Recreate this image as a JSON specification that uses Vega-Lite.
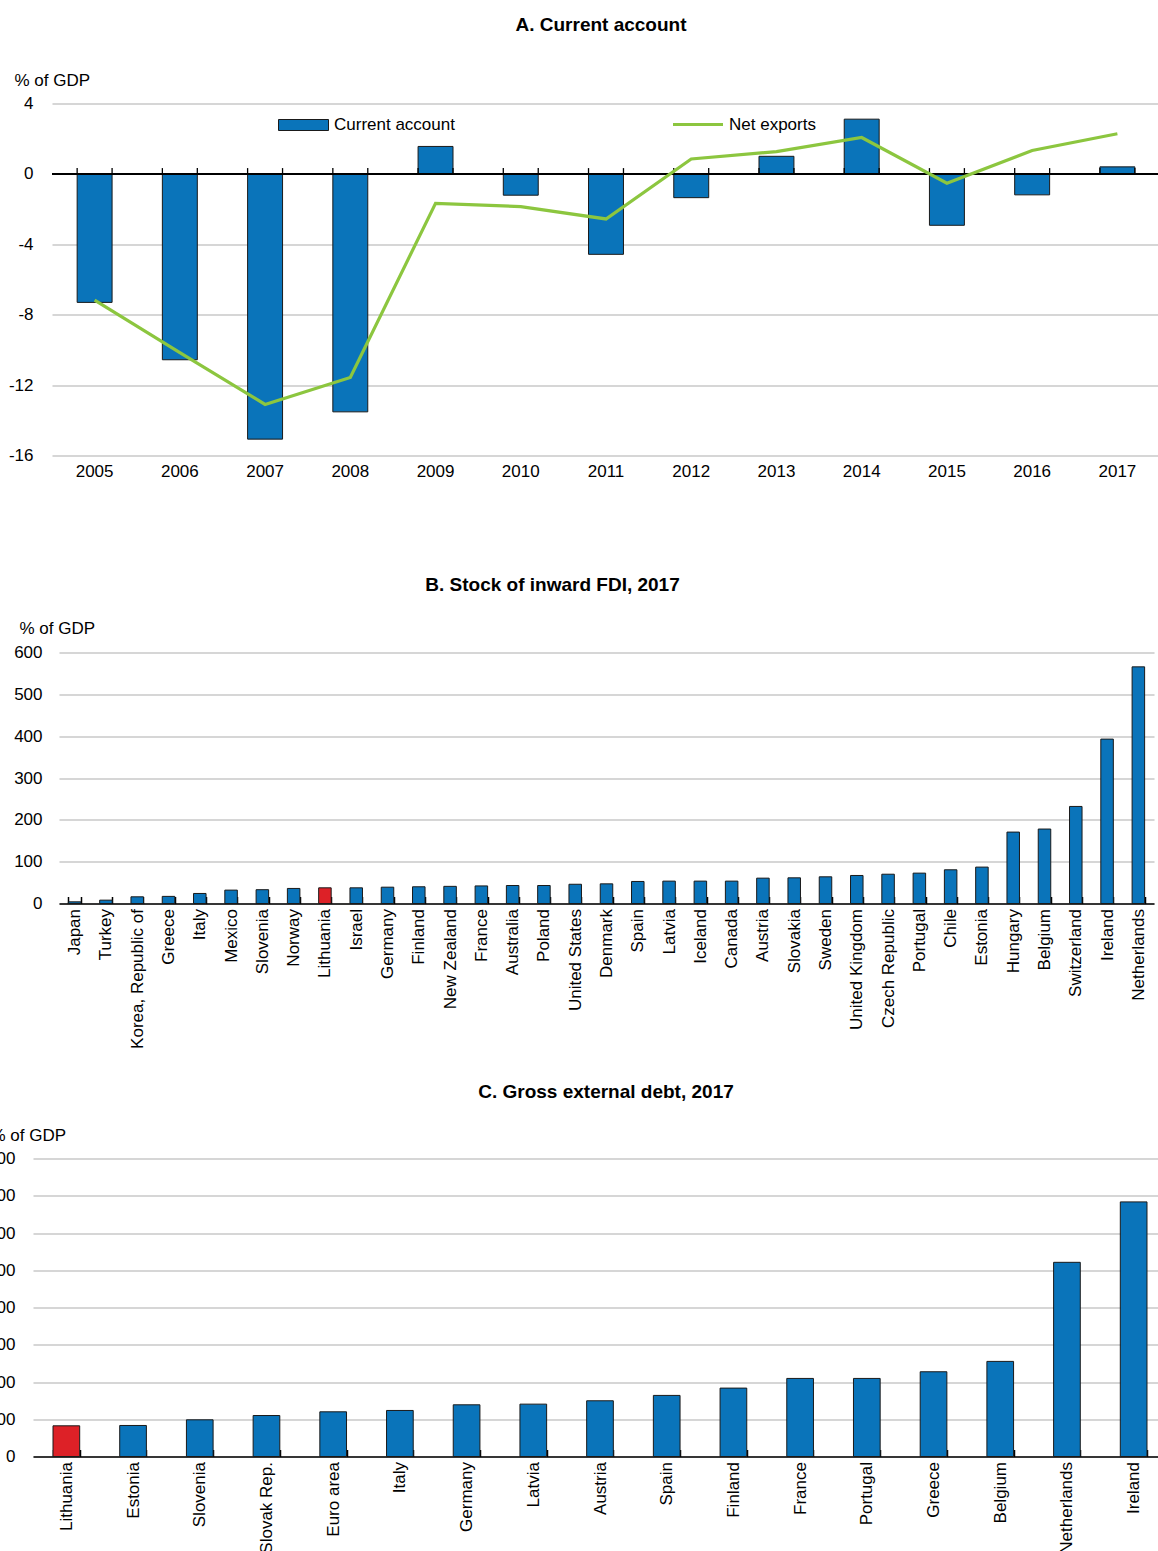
{
  "$schema": "https://vega.github.io/schema/vega-lite/v6.json",
  "padding": {"left": -18, "top": 15.5, "right": 0, "bottom": 0},
  "spacing": 34,
  "config": {
    "font": "Liberation Sans, Arial",
    "view": {"stroke": null},
    "axis": {"labelFontSize": 17, "labelColor": "#000", "titleFontSize": 17, "titleFontWeight": "normal", "titleColor": "#000", "gridColor": "#c8c8c8", "gridWidth": 1.5},
    "title": {"fontSize": 19, "fontWeight": "bold", "color": "#000", "frame": "group"},
    "legend": {"labelFontSize": 17, "labelColor": "#000"}
  },
  "vconcat": [
    {
      "spacing": 0,
      "hconcat": [
        {"width": 20, "height": 1, "data": {"values": [{}]}, "mark": {"type": "point", "opacity": 0, "size": 0}},
        {
          "width": 1108,
          "height": 352,
          "title": {"text": "A. Current account", "offset": 37, "dx": -5},
          "data": {"values": [
            {"year": "2005", "current_account": -7.30, "net_exports": -7.17},
            {"year": "2006", "current_account": -10.56, "net_exports": -10.15},
            {"year": "2007", "current_account": -15.07, "net_exports": -13.10},
            {"year": "2008", "current_account": -13.52, "net_exports": -11.57},
            {"year": "2009", "current_account": 1.56, "net_exports": -1.67},
            {"year": "2010", "current_account": -1.21, "net_exports": -1.86},
            {"year": "2011", "current_account": -4.57, "net_exports": -2.56},
            {"year": "2012", "current_account": -1.35, "net_exports": 0.85},
            {"year": "2013", "current_account": 1.00, "net_exports": 1.27},
            {"year": "2014", "current_account": 3.11, "net_exports": 2.07},
            {"year": "2015", "current_account": -2.92, "net_exports": -0.53},
            {"year": "2016", "current_account": -1.19, "net_exports": 1.33},
            {"year": "2017", "current_account": 0.40, "net_exports": 2.28}
          ]},
          "layer": [
            {
              "mark": {"type": "bar", "stroke": "#1a1a1a", "strokeWidth": 1},
              "encoding": {
                "x": {"field": "year", "type": "ordinal", "scale": {"paddingInner": 0.59, "paddingOuter": 0.295},
                      "axis": {"domain": false, "ticks": false, "labelAngle": 0, "labelPadding": 8, "title": null, "grid": false, "minExtent": 86}},
                "y": {"field": "current_account", "type": "quantitative", "scale": {"domain": [-16, 4], "nice": false},
                      "axis": {"values": [4, 0, -4, -8, -12, -16], "labelExpr": "'' + datum.value", "grid": true, "domain": false, "ticks": false, "labelPadding": 19, "minExtent": 50,
                               "title": "% of GDP", "titleAngle": 0, "titleAlign": "left", "titleBaseline": "middle", "titleX": -38, "titleY": -23}},
                "fill": {"datum": "Current account", "scale": {"range": ["#0a74ba"]},
                         "legend": {"orient": "none", "legendX": 296, "legendY": -4, "title": null, "padding": 0,
                                    "symbolType": "M-1,-0.22H1V0.22H-1Z", "symbolSize": 2500, "symbolStrokeColor": "#1a1a1a", "symbolStrokeWidth": 1, "labelOffset": 5}}
              }
            },
            {
              "mark": {"type": "rule", "color": "#000", "strokeWidth": 1.3},
              "encoding": {"y": {"datum": 0}}
            },
            {
              "mark": {"type": "rule", "color": "#000", "strokeWidth": 1.3},
              "encoding": {"x": {"field": "year", "type": "ordinal", "bandPosition": 0}, "y": {"datum": 0}, "y2": {"datum": 0.33}}
            },
            {
              "mark": {"type": "rule", "color": "#000", "strokeWidth": 1.3},
              "encoding": {"x": {"field": "year", "type": "ordinal", "bandPosition": 1}, "y": {"datum": 0}, "y2": {"datum": 0.33}}
            },
            {
              "mark": {"type": "line", "strokeWidth": 3.2},
              "encoding": {
                "x": {"field": "year", "type": "ordinal"},
                "y": {"field": "net_exports", "type": "quantitative"},
                "stroke": {"datum": "Net exports", "scale": {"range": ["#8cc63f"]},
                           "legend": {"orient": "none", "legendX": 689, "legendY": -6, "title": null, "padding": 0,
                                      "symbolType": "stroke", "symbolSize": 2500, "symbolStrokeWidth": 3.2, "labelOffset": 4}}
              }
            }
          ]
        }
      ]
    },
    {
      "spacing": 0,
      "hconcat": [
        {"width": 27, "height": 1, "data": {"values": [{}]}, "mark": {"type": "point", "opacity": 0, "size": 0}},
        {
          "width": 1095,
          "height": 251,
          "title": {"text": "B. Stock of inward FDI, 2017", "offset": 25, "dx": -54},
          "data": {"values": [
            {"country": "Japan", "value": 4},
            {"country": "Turkey", "value": 8},
            {"country": "Korea, Republic of", "value": 16},
            {"country": "Greece", "value": 17},
            {"country": "Italy", "value": 24},
            {"country": "Mexico", "value": 32},
            {"country": "Slovenia", "value": 33},
            {"country": "Norway", "value": 36},
            {"country": "Lithuania", "value": 37.5},
            {"country": "Israel", "value": 37.5},
            {"country": "Germany", "value": 39},
            {"country": "Finland", "value": 40},
            {"country": "New Zealand", "value": 41},
            {"country": "France", "value": 42},
            {"country": "Australia", "value": 43},
            {"country": "Poland", "value": 43},
            {"country": "United States", "value": 46},
            {"country": "Denmark", "value": 47},
            {"country": "Spain", "value": 52.7},
            {"country": "Latvia", "value": 53.5},
            {"country": "Iceland", "value": 53.5},
            {"country": "Canada", "value": 53.5},
            {"country": "Austria", "value": 60.6},
            {"country": "Slovakia", "value": 61.4},
            {"country": "Sweden", "value": 63.8},
            {"country": "United Kingdom", "value": 67},
            {"country": "Czech Republic", "value": 70},
            {"country": "Portugal", "value": 72.6},
            {"country": "Chile", "value": 80.6},
            {"country": "Estonia", "value": 87},
            {"country": "Hungary", "value": 170.7},
            {"country": "Belgium", "value": 178},
            {"country": "Switzerland", "value": 232},
            {"country": "Ireland", "value": 393},
            {"country": "Netherlands", "value": 565.7}
          ]},
          "mark": {"type": "bar", "stroke": "#1a1a1a", "strokeWidth": 1},
          "encoding": {
            "x": {"field": "country", "type": "nominal", "sort": null, "scale": {"paddingInner": 0.6, "paddingOuter": 0.3},
                  "axis": {"labelAngle": -90, "domain": true, "domainColor": "#000", "domainWidth": 1.5, "ticks": true, "tickBand": "extent", "tickSize": -7, "tickColor": "#000", "tickWidth": 1.5, "labelPadding": 12, "title": null}},
            "y": {"field": "value", "type": "quantitative", "scale": {"domain": [0, 600], "nice": false},
                  "axis": {"values": [0, 100, 200, 300, 400, 500, 600], "grid": true, "domain": false, "ticks": false, "labelPadding": 17, "minExtent": 50,
                           "title": "% of GDP", "titleAngle": 0, "titleAlign": "left", "titleBaseline": "middle", "titleX": -40, "titleY": -24}},
            "fill": {"condition": {"test": "datum.country === 'Lithuania'", "value": "#dd2127"}, "value": "#0a74ba"}
          }
        }
      ]
    },
    {
      "spacing": 0,
      "hconcat": [
        {"width": 1, "height": 1, "data": {"values": [{}]}, "mark": {"type": "point", "opacity": 0, "size": 0}},
        {
          "width": 1134,
          "height": 298,
          "title": {"text": "C. Gross external debt, 2017", "offset": 25, "dx": 6},
          "data": {"values": [
            {"country": "Lithuania", "value": 82.4},
            {"country": "Estonia", "value": 83.3},
            {"country": "Slovenia", "value": 98.5},
            {"country": "Slovak Rep.", "value": 110},
            {"country": "Euro area", "value": 120},
            {"country": "Italy", "value": 123.6},
            {"country": "Germany", "value": 138.8},
            {"country": "Latvia", "value": 140.6},
            {"country": "Austria", "value": 149.6},
            {"country": "Spain", "value": 164},
            {"country": "Finland", "value": 183.6},
            {"country": "France", "value": 209.6},
            {"country": "Portugal", "value": 209.6},
            {"country": "Greece", "value": 227.5},
            {"country": "Belgium", "value": 255.3},
            {"country": "Netherlands", "value": 521.3},
            {"country": "Ireland", "value": 683.5}
          ]},
          "mark": {"type": "bar", "stroke": "#1a1a1a", "strokeWidth": 1},
          "encoding": {
            "x": {"field": "country", "type": "nominal", "sort": null, "scale": {"paddingInner": 0.6, "paddingOuter": 0.3},
                  "axis": {"labelAngle": -90, "domain": true, "domainColor": "#000", "domainWidth": 1.5, "ticks": true, "tickBand": "extent", "tickSize": -7, "tickColor": "#000", "tickWidth": 1.5, "labelPadding": 12, "title": null}},
            "y": {"field": "value", "type": "quantitative", "scale": {"domain": [0, 800], "nice": false},
                  "axis": {"values": [0, 100, 200, 300, 400, 500, 600, 700, 800], "grid": true, "domain": false, "ticks": false, "labelPadding": 18, "minExtent": 50,
                           "title": "% of GDP", "titleAngle": 0, "titleAlign": "left", "titleBaseline": "middle", "titleX": -43, "titleY": -23}},
            "fill": {"condition": {"test": "datum.country === 'Lithuania'", "value": "#dd2127"}, "value": "#0a74ba"}
          }
        }
      ]
    }
  ]
}
